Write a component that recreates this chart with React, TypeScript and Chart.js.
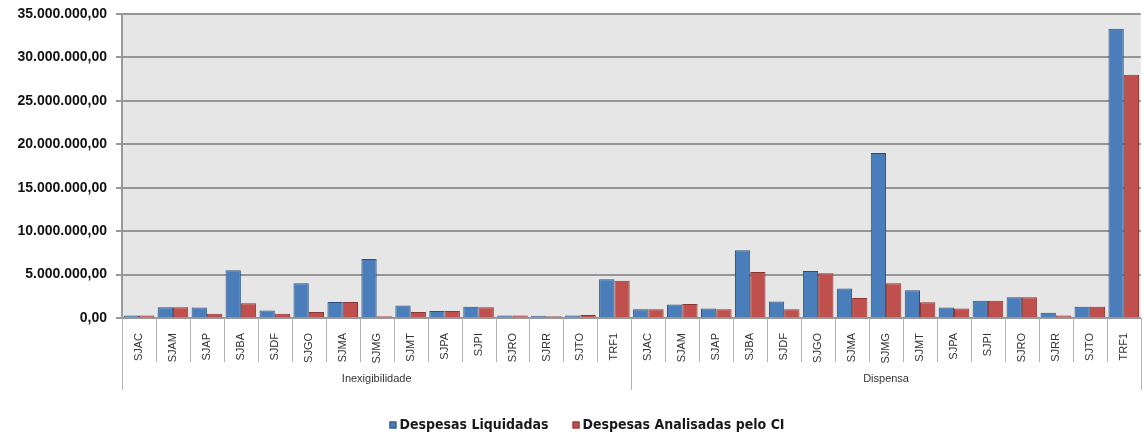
import React, { useEffect, useRef } from "react";
import { Chart, registerables } from "chart.js";

Chart.register(...registerables);

const categories = [
  "SJAC", "SJAM", "SJAP", "SJBA", "SJDF", "SJGO", "SJMA", "SJMG", "SJMT", "SJPA", "SJPI", "SJRO", "SJRR", "SJTO", "TRF1",
  "SJAC", "SJAM", "SJAP", "SJBA", "SJDF", "SJGO", "SJMA", "SJMG", "SJMT", "SJPA", "SJPI", "SJRO", "SJRR", "SJTO", "TRF1",
];
const groups = ["Inexigibilidade", "Dispensa"];
const groupSizes = [15, 15];

const despesasLiquidadas = [
  300000, 1250000, 1200000, 5500000, 850000, 4000000, 1850000, 6800000, 1450000, 800000, 1300000, 300000, 250000, 300000, 4450000,
  1000000, 1550000, 1100000, 7800000, 1900000, 5400000, 3400000, 19000000, 3200000, 1200000, 2000000, 2400000, 600000, 1300000, 33300000,
];
const despesasAnalisadas = [
  300000, 1250000, 500000, 1700000, 500000, 700000, 1850000, 200000, 700000, 800000, 1250000, 300000, 200000, 350000, 4300000,
  1000000, 1600000, 1000000, 5300000, 1000000, 5150000, 2300000, 4000000, 1800000, 1100000, 2000000, 2400000, 300000, 1300000, 28000000,
];
const seriesLabels = ["Despesas Liquidadas", "Despesas Analisadas pelo CI"];
const seriesColors = ["#4a7ebb", "#c0504d"];
const seriesBorders = ["#2b4f7d", "#8a3532"];
const yMax = 35000000;
const yStep = 5000000;

function formatBR(v: number): string {
  const intPart = Math.round(v).toString().replace(/\B(?=(\d{3})+(?!\d))/g, ".");
  return intPart + ",00";
}

const decorPlugin = {
  id: "decor",
  beforeDraw(chart: any) {
    const { ctx, chartArea } = chart;
    ctx.save();
    ctx.fillStyle = "#e6e6e6";
    ctx.fillRect(chartArea.left, chartArea.top, chartArea.right - chartArea.left, chartArea.bottom - chartArea.top);
    ctx.restore();
  },
  afterDraw(chart: any) {
    const { ctx, chartArea } = chart;
    const n = categories.length;
    const w = (chartArea.right - chartArea.left) / n;
    const bottom = chartArea.bottom;
    const groupEnds: number[] = [0];
    let acc = 0;
    groupSizes.forEach((s) => {
      acc += s;
      groupEnds.push(acc);
    });
    ctx.save();
    ctx.strokeStyle = "#b0b0b0";
    ctx.lineWidth = 1;
    for (let i = 0; i <= n; i++) {
      const x = Math.round(chartArea.left + i * w) + 0.5;
      const isGroup = groupEnds.includes(i);
      ctx.beginPath();
      ctx.moveTo(x, bottom);
      ctx.lineTo(x, bottom + (isGroup ? 72 : 44));
      ctx.stroke();
    }
    ctx.fillStyle = "#333";
    ctx.font = "11px 'Liberation Sans', Arial, sans-serif";
    ctx.textAlign = "center";
    ctx.textBaseline = "middle";
    groups.forEach((g, gi) => {
      const cx = chartArea.left + ((groupEnds[gi] + groupEnds[gi + 1]) / 2) * w;
      ctx.fillText(g, cx, bottom + 61);
    });

    // legend
    ctx.font = "bold 14px 'DejaVu Sans Condensed', 'Liberation Sans Narrow', Arial, sans-serif";
    ctx.textAlign = "left";
    ctx.textBaseline = "middle";
    const ly = 425;
    const box = 7;
    const gapBoxText = 3;
    const gapItems = 24;
    const widths = seriesLabels.map((t) => box + gapBoxText + ctx.measureText(t).width);
    const total = widths.reduce((a, b) => a + b, 0) + gapItems * (seriesLabels.length - 1);
    let lx = 587 - total / 2;
    seriesLabels.forEach((t, i) => {
      ctx.fillStyle = seriesColors[i];
      ctx.fillRect(lx, ly - box / 2, box, box);
      ctx.strokeStyle = seriesBorders[i];
      ctx.lineWidth = 1;
      ctx.strokeRect(lx + 0.5, ly - box / 2 + 0.5, box - 1, box - 1);
      ctx.fillStyle = "#1a1a1a";
      ctx.fillText(t, lx + box + gapBoxText, ly);
      lx += widths[i] + gapItems;
    });
    ctx.restore();
  },
};

export default function App() {
  const ref = useRef<HTMLCanvasElement>(null);
  useEffect(() => {
    if (!ref.current) return;
    const chart = new Chart(ref.current, {
      type: "bar",
      data: {
        labels: categories,
        datasets: [
          {
            label: seriesLabels[0],
            data: despesasLiquidadas,
            backgroundColor: seriesColors[0],
            borderColor: seriesBorders[0],
            borderWidth: 1,
            categoryPercentage: 0.9,
            barPercentage: 1.0,
          },
          {
            label: seriesLabels[1],
            data: despesasAnalisadas,
            backgroundColor: seriesColors[1],
            borderColor: seriesBorders[1],
            borderWidth: 1,
            categoryPercentage: 0.9,
            barPercentage: 1.0,
          },
        ],
      },
      options: {
        responsive: false,
        animation: false,
        layout: { padding: { top: 14, right: 2, bottom: 2, left: 0 } },
        plugins: {
          legend: { display: false },
          tooltip: { enabled: false },
        },
        scales: {
          x: {
            grid: { display: false },
            border: { display: true, color: "#999", width: 1 },
            ticks: {
              autoSkip: false,
              maxRotation: 90,
              minRotation: 90,
              padding: 7,
              color: "#333",
              font: { family: "'Liberation Sans', Arial, sans-serif", size: 11 },
            },
            afterFit(scale: any) {
              scale.height = 119;
            },
          },
          y: {
            min: 0,
            max: yMax,
            ticks: {
              stepSize: yStep,
              padding: 9,
              color: "#111",
              font: { family: "'Liberation Sans', Arial, sans-serif", size: 14, weight: "bold" },
              callback: (v: any) => formatBR(Number(v)),
            },
            grid: { color: "#959595", lineWidth: 2, tickLength: 6, tickColor: "#999" },
            border: { display: true, color: "#999", width: 2 },
            afterFit(scale: any) {
              scale.width = 122;
              scale.paddingTop = 8;
              scale.paddingBottom = 8;
            },
          },
        },
      },
      plugins: [decorPlugin],
    } as any);
    return () => chart.destroy();
  }, []);
  return (
    <div style={{ position: "absolute", left: 0, top: 0, width: 1144, height: 439, background: "#fff" }}>
      <canvas ref={ref} width={1144} height={439} />
    </div>
  );
}
